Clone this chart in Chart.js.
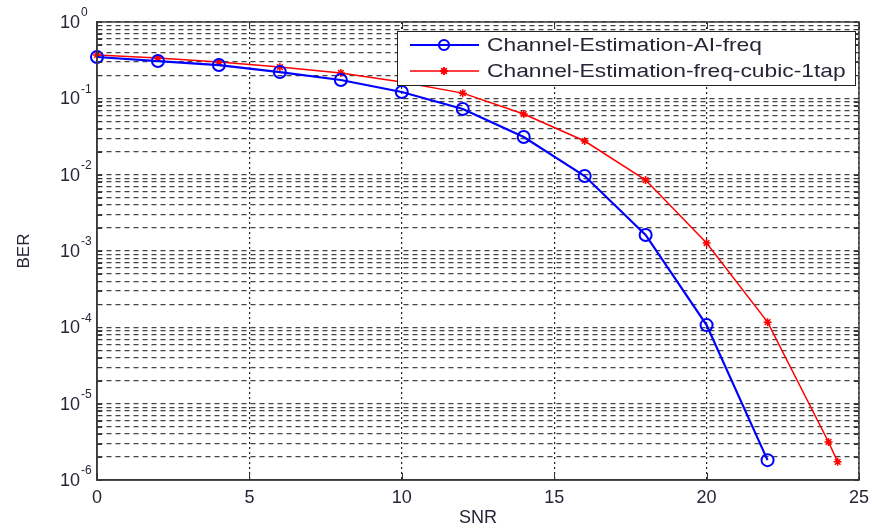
<!DOCTYPE html>
<html>
<head>
<meta charset="utf-8">
<script src="https://cdn.jsdelivr.net/npm/chart.js@4.4.1/dist/chart.umd.min.js"></script>
<style>
  html, body { margin: 0; padding: 0; background: #fff; }
  #wrap { width: 876px; height: 529px; }
</style>
</head>
<body>
<div id="wrap"><canvas id="berChart"></canvas></div>
<script>
// SNR (dB) und BER der beiden Kanalschaetzer
const snrAi = [0, 2, 4, 6, 8, 10, 12, 14, 16, 18, 20, 22];
const berAi = [0.348, 0.308, 0.273, 0.221, 0.174, 0.121, 0.0725, 0.0311, 0.0096, 0.00162, 1.07e-4, 1.82e-6];

const snrCubic = [0, 2, 4, 6, 8, 10, 12, 14, 16, 18, 20, 22, 24, 24.3];
const berCubic = [0.37, 0.337, 0.299, 0.257, 0.215, 0.164, 0.117, 0.0623, 0.0276, 0.0085, 0.00127, 1.17e-4, 3.15e-6, 1.73e-6];

const seriesNames = ['Channel-Estimation-AI-freq', 'Channel-Estimation-freq-cubic-1tap'];
const xTicks = [0, 5, 10, 15, 20, 25];
const decades = [0, -1, -2, -3, -4, -5, -6];

const textColor = '#262636';

function toPoints(xs, ys) {
	return xs.map((x, i) => ({ x: x, y: ys[i] }));
}

// y-Ticks: 1..9 * 10^k fuer jede Dekade
function logTicks() {
	let ticks = [];
	for (let e = -6; e < 0; e++) {
		for (let m = 1; m <= 9; m++) {
			ticks.push({ value: m * Math.pow(10, e) });
		}
	}
	ticks.push({ value: 1 });
	return ticks;
}

// Beschriftung 10^k, Rahmen, Innen-Ticks und Legende
const matlabLook = {
	id: 'matlabLook',
	afterDraw(chart) {
		const ctx = chart.ctx;
		const area = chart.chartArea;
		const yScale = chart.scales.y;
		const xScale = chart.scales.x;
		ctx.save();

		// Innen-Ticks
		ctx.strokeStyle = '#333';
		ctx.lineWidth = 1;
		ctx.setLineDash([]);
		logTicks().forEach(t => {
			let py = Math.round(yScale.getPixelForValue(t.value)) + 0.5;
			ctx.beginPath();
			ctx.moveTo(area.left, py); ctx.lineTo(area.left + 5, py);
			ctx.moveTo(area.right, py); ctx.lineTo(area.right - 5, py);
			ctx.stroke();
		});
		xTicks.forEach(v => {
			let px = Math.round(xScale.getPixelForValue(v)) + 0.5;
			ctx.beginPath();
			ctx.moveTo(px, area.bottom); ctx.lineTo(px, area.bottom - 7);
			ctx.moveTo(px, area.top); ctx.lineTo(px, area.top + 7);
			ctx.stroke();
		});

		// Rahmen
		ctx.strokeStyle = '#3a3a3a';
		ctx.lineWidth = 1.5;
		ctx.strokeRect(area.left, area.top, area.right - area.left, area.bottom - area.top);

		// y-Beschriftung 10^k
		ctx.fillStyle = textColor;
		decades.forEach(e => {
			let py = yScale.getPixelForValue(Math.pow(10, e));
			ctx.font = '18px "Liberation Sans", Arial, sans-serif';
			ctx.textAlign = 'right';
			ctx.textBaseline = 'middle';
			ctx.fillText('10', 80, py + 1);
			ctx.font = '12px "Liberation Sans", Arial, sans-serif';
			ctx.textAlign = 'left';
			ctx.fillText(e === 0 ? '0' : '-' + (-e), 81, py - 9);
		});

		// Legende
		const box = { left: 397, top: 31, right: 855, bottom: 85 };
		ctx.fillStyle = '#fff';
		ctx.fillRect(box.left, box.top, box.right - box.left, box.bottom - box.top);
		ctx.strokeStyle = '#222';
		ctx.lineWidth = 1;
		ctx.strokeRect(box.left + 0.5, box.top + 0.5, box.right - box.left, box.bottom - box.top);

		const rows = [
			{ y: 45, color: '#0000ff', width: 2.2, name: seriesNames[0], marker: 'circle' },
			{ y: 71, color: '#ff0000', width: 1.5, name: seriesNames[1], marker: 'star' }
		];
		rows.forEach(r => {
			ctx.strokeStyle = r.color;
			ctx.lineWidth = r.width;
			ctx.beginPath();
			ctx.moveTo(410, r.y); ctx.lineTo(479, r.y);
			ctx.stroke();
			if (r.marker === 'circle') {
				ctx.beginPath();
				ctx.arc(444, r.y, 5, 0, Math.PI * 2);
				ctx.stroke();
			} else {
				Chart.helpers.drawPoint(ctx, { pointStyle: 'star', radius: 4, borderWidth: 1.5 }, 444, r.y);
				ctx.stroke();
			}
			ctx.save();
			ctx.translate(487, r.y + 1);
			ctx.scale(1.2, 1);
			ctx.fillStyle = textColor;
			ctx.font = '19px "Liberation Sans", Arial, sans-serif';
			ctx.textAlign = 'left';
			ctx.textBaseline = 'middle';
			ctx.fillText(r.name, 0, 0);
			ctx.restore();
		});

		ctx.restore();
	}
};

let ctx = document.getElementById('berChart');

let berChart = new Chart(ctx, {
	type: 'line',
	data: {
		datasets: [
			{
				label: seriesNames[0],
				data: toPoints(snrAi, berAi),
				borderColor: '#0000ff',
				borderWidth: 2.2,
				pointStyle: 'circle',
				pointRadius: 6,
				pointBorderWidth: 2,
				pointBorderColor: '#0000ff',
				pointBackgroundColor: 'rgba(0,0,0,0)',
				tension: 0,
				clip: false
			},
			{
				label: seriesNames[1],
				data: toPoints(snrCubic, berCubic),
				borderColor: '#ff0000',
				borderWidth: 1.5,
				pointStyle: 'star',
				pointRadius: 4,
				pointBorderWidth: 1.5,
				pointBorderColor: '#ff0000',
				pointBackgroundColor: '#ff0000',
				tension: 0,
				clip: false
			}
		]
	},
	options: {
		responsive: true,
		maintainAspectRatio: false,
		animation: false,
		events: [],
		layout: { padding: { top: 22, right: 6, left: 14, bottom: 0 } },
		plugins: {
			legend: { display: false },
			tooltip: { enabled: false }
		},
		scales: {
			x: {
				type: 'linear',
				min: 0,
				max: 25,
				afterBuildTicks: scale => { scale.ticks = xTicks.map(v => ({ value: v })); },
				afterFit: scale => { scale.height = 49; },
				grid: { color: '#222', lineWidth: 1.2, drawTicks: false },
				border: { display: true, color: '#3a3a3a', width: 1.5, dash: [2, 3] },
				ticks: {
					autoSkip: false,
					color: textColor,
					padding: 7,
					maxRotation: 0,
					font: { family: '"Liberation Sans", Arial, sans-serif', size: 18 }
				},
				title: {
					display: true,
					text: 'SNR',
					color: textColor,
					padding: 0,
					font: { family: '"Liberation Sans", Arial, sans-serif', size: 18 }
				}
			},
			y: {
				type: 'logarithmic',
				min: 1e-6,
				max: 1,
				afterBuildTicks: scale => { scale.ticks = logTicks(); },
				afterFit: scale => { scale.width = 83; },
				grid: { color: '#444', lineWidth: 1.2, drawTicks: false },
				border: { display: true, color: '#3a3a3a', width: 1.5, dash: [5, 4] },
				ticks: { autoSkip: false, callback: () => '', padding: 0 },
				title: {
					display: true,
					text: 'BER',
					color: textColor,
					padding: 0,
					font: { family: '"Liberation Sans", Arial, sans-serif', size: 17 }
				}
			}
		}
	},
	plugins: [matlabLook]
});
</script>
</body>
</html>
